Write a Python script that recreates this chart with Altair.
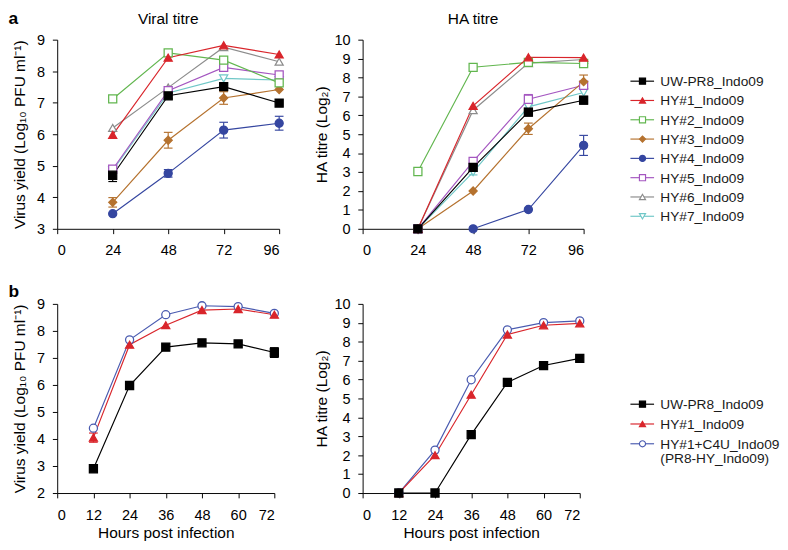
import altair as alt
import pandas as pd

FONT = "Liberation Sans"

# ---------------- data: panel a ----------------
hours_a = [24, 48, 72, 96]
series_a = ["UW-PR8_Indo09", "HY#1_Indo09", "HY#2_Indo09", "HY#3_Indo09",
            "HY#4_Indo09", "HY#5_Indo09", "HY#6_Indo09", "HY#7_Indo09"]
colors_a = ["#000000", "#d9252b", "#62b64f", "#b5722f",
            "#3546a0", "#a456c0", "#8c8c8c", "#6fc7c7"]
shapes_a = ["square", "triangle-up", "square", "diamond",
            "circle", "square", "triangle-up", "triangle-down"]
filled_a = [True, True, False, True, True, False, False, False]

viral_a = {
    "UW-PR8_Indo09": [4.70, 7.22, 7.51, 6.99],
    "HY#1_Indo09":   [5.98, 8.43, 8.82, 8.53],
    "HY#2_Indo09":   [7.12, 8.58, 8.35, 7.63],
    "HY#3_Indo09":   [3.84, 5.81, 7.15, 7.42],
    "HY#4_Indo09":   [3.48, 4.76, 6.13, 6.35],
    "HY#5_Indo09":   [4.89, 7.38, 8.12, 7.88],
    "HY#6_Indo09":   [6.20, 7.48, 8.76, 8.30],
    "HY#7_Indo09":   [4.85, 7.31, 7.77, 7.72],
}
viral_a_err = {
    "UW-PR8_Indo09": [0.20, 0.10, 0.10, 0.0],
    "HY#3_Indo09":   [0.15, 0.25, 0.20, 0.0],
    "HY#4_Indo09":   [0.0, 0.12, 0.25, 0.22],
}
ha_a = {
    "UW-PR8_Indo09": [0.0, 3.25, 6.17, 6.80],
    "HY#1_Indo09":   [0.0, 6.50, 9.07, 9.05],
    "HY#2_Indo09":   [3.03, 8.54, 8.80, 8.74],
    "HY#3_Indo09":   [0.0, 2.00, 5.29, 7.78],
    "HY#4_Indo09":   [None, 0.0, 1.02, 4.41],
    "HY#5_Indo09":   [0.0, 3.56, 6.85, 7.59],
    "HY#6_Indo09":   [0.0, 6.27, 8.76, 8.95],
    "HY#7_Indo09":   [0.0, 3.00, 6.45, 7.21],
}
ha_a_err = {
    "UW-PR8_Indo09": [0.0, 0.20, 0.20, 0.20],
    "HY#3_Indo09":   [0.0, 0.0, 0.30, 0.35],
    "HY#4_Indo09":   [0.0, 0.0, 0.0, 0.53],
    "HY#5_Indo09":   [0.0, 0.0, 0.25, 0.0],
    "HY#7_Indo09":   [0.0, 0.15, 0.0, 0.0],
}

# ---------------- data: panel b ----------------
hours_b = [12, 24, 36, 48, 60, 72]
series_b = ["UW-PR8_Indo09", "HY#1_Indo09", "HY#1+C4U_Indo09"]
legend_b_labels = ["UW-PR8_Indo09", "HY#1_Indo09", "HY#1+C4U_Indo09\n(PR8-HY_Indo09)"]
colors_b = ["#000000", "#d9252b", "#4a5bb0"]
shapes_b = ["square", "triangle-up", "circle"]
filled_b = [True, True, False]

viral_b = {
    "UW-PR8_Indo09":   [2.90, 5.98, 7.40, 7.56, 7.52, 7.20],
    "HY#1_Indo09":     [4.05, 7.49, 8.21, 8.77, 8.81, 8.60],
    "HY#1+C4U_Indo09": [4.40, 7.67, 8.60, 8.93, 8.90, 8.65],
}
viral_b_err = {
    "UW-PR8_Indo09":   [0.12, 0.0, 0.0, 0.0, 0.0, 0.18],
    "HY#1_Indo09":     [0.17, 0.0, 0.0, 0.0, 0.0, 0.0],
}
ha_b = {
    "UW-PR8_Indo09":   [0.0, 0.0, 3.09, 5.85, 6.74, 7.12],
    "HY#1_Indo09":     [0.0, 2.00, 5.20, 8.38, 8.87, 8.97],
    "HY#1+C4U_Indo09": [0.0, 2.27, 5.99, 8.63, 9.01, 9.10],
}


def long_df(values, errs, hours, names, colors, shapes, filled):
    rows = []
    for i, name in reversed(list(enumerate(names))):
        vals = values[name]
        ev = errs.get(name, [0.0] * len(hours))
        for h, v, e in zip(hours, vals, ev):
            if v is None:
                continue
            rows.append({"series": name, "hour": h, "value": v, "err": e,
                         "col": colors[i], "shp": shapes[i],
                         "fillc": colors[i] if filled[i] else "white"})
    return pd.DataFrame(rows)


def text_layer(t, x, y, size, weight, align):
    return alt.Chart(pd.DataFrame({"t": [t]})).mark_text(
        align=align, baseline="middle", font=FONT, fontSize=size,
        fontWeight=weight, color="black").encode(
        text="t:N", x=alt.value(x), y=alt.value(y))


def panel(df, xvals, xmax, ydom, ytitle, xtitle, width, height, tpad,
          title=None, letter=None, letter_y=-22):
    xscale = alt.Scale(domain=[0, xmax], nice=False, zero=False)
    xaxis = alt.Axis(values=xvals, title=xtitle, titlePadding=3, labelPadding=10,
                     labelOverlap=False)
    yscale = alt.Scale(domain=ydom, nice=False, zero=False)
    yaxis = alt.Axis(values=list(range(ydom[0], ydom[1] + 1)), title=ytitle,
                     titlePadding=tpad, labelOverlap=False)

    def X(f):
        return alt.X(f, scale=xscale, axis=xaxis)

    def Y(f):
        return alt.Y(f, scale=yscale, axis=yaxis)

    color = alt.Color("col:N", scale=None)
    base = alt.Chart(df)
    lines = base.mark_line(strokeWidth=1.2).encode(x=X("hour:Q"), y=Y("value:Q"),
                                                   color=color, detail="series:N")
    eb = base.transform_filter("datum.err > 0").transform_calculate(
        lo="datum.value - datum.err", hi="datum.value + datum.err")
    bars = eb.mark_rule(strokeWidth=1.2).encode(x=X("hour:Q"), y=Y("lo:Q"),
                                                y2="hi:Q", color=color)
    cap_lo = eb.mark_rule(strokeWidth=1.2, xOffset=-4.5, x2Offset=4.5).encode(
        x=X("hour:Q"), x2="hour:Q", y=Y("lo:Q"), color=color)
    cap_hi = eb.mark_rule(strokeWidth=1.2, xOffset=-4.5, x2Offset=4.5).encode(
        x=X("hour:Q"), x2="hour:Q", y=Y("hi:Q"), color=color)
    pts = base.mark_point(size=70, strokeWidth=1.3, opacity=1).encode(
        x=X("hour:Q"), y=Y("value:Q"), color=color,
        shape=alt.Shape("shp:N", scale=None),
        fill=alt.Fill("fillc:N", scale=None))
    layers = [lines, bars, cap_lo, cap_hi, pts]
    if letter:
        layers.append(text_layer(letter, -50.5, letter_y, 18, "bold", "left"))
    if title:
        layers.append(text_layer(title, width / 2, -21, 16, "normal", "center"))
    return alt.layer(*layers).properties(width=width, height=height)


def legend_panel(names, labels, colors, shapes, filled, dom, height):
    df = pd.DataFrame({"idx": list(range(len(names))), "series": names, "label": labels,
                       "col": colors, "shp": shapes,
                       "fillc": [c if f else "white" for c, f in zip(colors, filled)]})
    y = alt.Y("idx:Q", scale=alt.Scale(domain=dom, reverse=True, nice=False, zero=False),
              axis=None)
    color = alt.Color("col:N", scale=None)
    base = alt.Chart(df)
    rule = base.mark_rule(strokeWidth=1.2).encode(
        x=alt.value(-38), x2=alt.value(-13.5), y=y, color=color)
    pts = base.mark_point(size=40, strokeWidth=1.2, opacity=1).encode(
        x=alt.value(-25.5), y=y, color=color,
        shape=alt.Shape("shp:N", scale=None),
        fill=alt.Fill("fillc:N", scale=None))
    txt = base.mark_text(align="left", baseline="alphabetic", dy=5.2, font=FONT,
                         fontSize=14.2, lineBreak="\n", lineHeight=15,
                         color="#1a1a1a").encode(
        x=alt.value(-7), y=y, text="label:N")
    return alt.layer(rule, pts, txt).properties(width=10, height=height)


VY = "Virus yield (Log\u2081\u2080 PFU ml\u207b\u00b9)"
HA = "HA titre (Log\u2082)"

df_va = long_df(viral_a, viral_a_err, hours_a, series_a, colors_a, shapes_a, filled_a)
df_ha = long_df(ha_a, ha_a_err, hours_a, series_a, colors_a, shapes_a, filled_a)
df_vb = long_df(viral_b, viral_b_err, hours_b, series_b, colors_b, shapes_b, filled_b)
df_hb = long_df(ha_b, {}, hours_b, series_b, colors_b, shapes_b, filled_b)

H = 196
pa1 = panel(df_va, [0, 24, 48, 72, 96], 96, [3, 9], VY, None,
            230, H, 10, title="Viral titre", letter="a", letter_y=-21)
pa2 = panel(df_ha, [0, 24, 48, 72, 96], 96, [0, 10], HA, None,
            229, H, 5, title="HA titre")
la = legend_panel(series_a, series_a, colors_a, shapes_a, filled_a, [-2.15, 7.65], H)

pb1 = panel(df_vb, [0, 12, 24, 36, 48, 60, 72], 72, [2, 9], VY,
            "Hours post infection", 225, H, 10, letter="b", letter_y=-12)
pb2 = panel(df_hb, [0, 12, 24, 36, 48, 60, 72], 72, [0, 10], HA,
            "Hours post infection", 225, H, 5)
lb = legend_panel(series_b, legend_b_labels, colors_b, shapes_b, filled_b, [-5.07, 4.49], H)

chart = alt.concat(pa1, pa2, la, pb1, pb2, lb, columns=3,
                   spacing={"row": 77.8, "column": 86.5}, bounds="flush").properties(
    padding={"left": 0, "top": -7, "right": 0, "bottom": 0}
).configure_axis(
    domainColor="black", tickColor="black", labelColor="black", titleColor="black",
    labelFont=FONT, titleFont=FONT, labelFontSize=15, titleFontSize=16,
    titleFontWeight="normal", tickSize=5, labelPadding=8, grid=False,
    domainWidth=1, tickWidth=1
).configure_view(stroke=None)

chart.save("out.html", embed_options={"renderer": "svg", "actions": False})
